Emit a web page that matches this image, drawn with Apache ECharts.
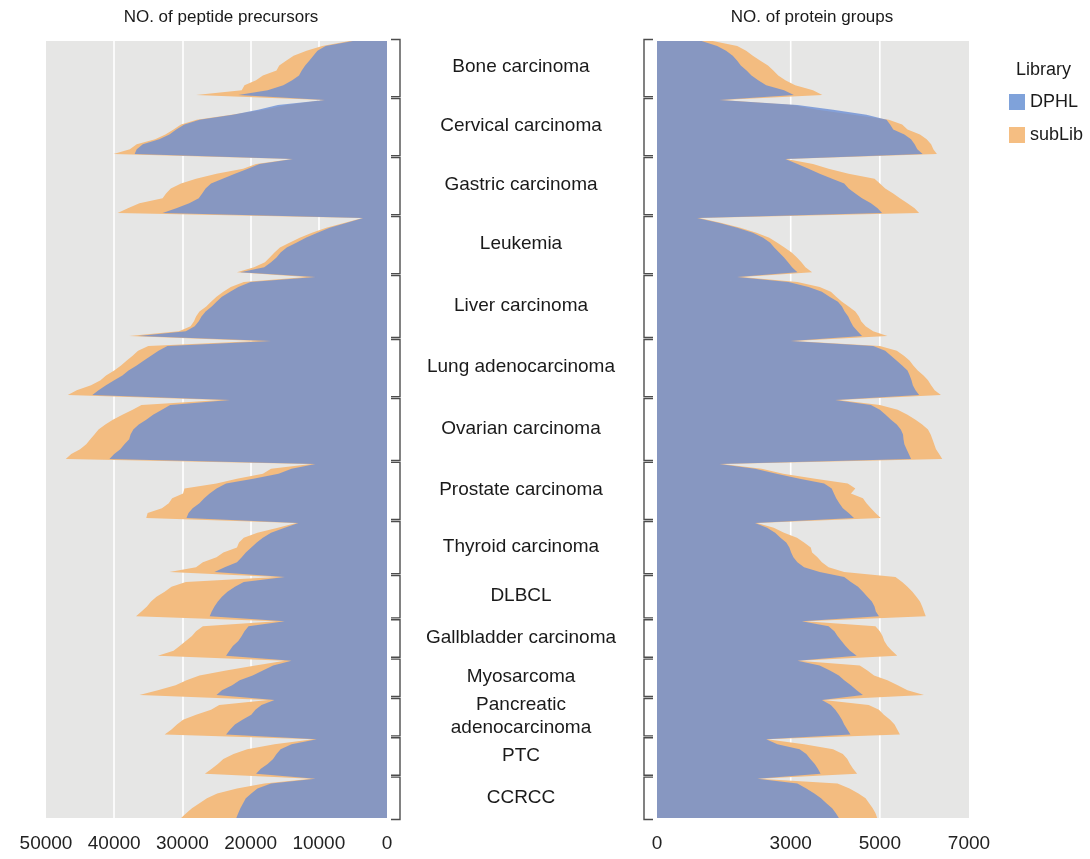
<!DOCTYPE html>
<html>
<head>
<meta charset="utf-8">
<title>DPHL vs subLib</title>
<script src="https://cdn.jsdelivr.net/npm/echarts@6/dist/echarts.min.js"></script>
<style>
    html, body { margin: 0; padding: 0; background: #fff; }
    #chart { width: 1090px; height: 859px; }
</style>
</head>
<body>
<div id="chart"></div>
<script>
// 分组(癌症类型)
var groupNames = ['Bone carcinoma', 'Cervical carcinoma', 'Gastric carcinoma', 'Leukemia', 'Liver carcinoma',
    'Lung adenocarcinoma', 'Ovarian carcinoma', 'Prostate carcinoma', 'Thyroid carcinoma', 'DLBCL',
    'Gallbladder carcinoma', 'Myosarcoma', 'Pancreatic\nadenocarcinoma', 'PTC', 'CCRCC'];

// 肽段前体数 - DPHL
var pepDPHL = [
    [5000, 9000, 10200, 10800, 11400, 12000, 12500, 12900, 13900, 15200, 17500, 21800],
    [9100, 16000, 18900, 22600, 27500, 29700, 30900, 31900, 33400, 35800, 36700, 37000],
    [13800, 18700, 20400, 22300, 24100, 25800, 26600, 27100, 27600, 29000, 30900, 32900],
    [3500, 6000, 8400, 10200, 11900, 13300, 14700, 15600, 16200, 17000, 18000, 21500],
    [10500, 20000, 21800, 23000, 24200, 25000, 25700, 26600, 27200, 27600, 28200, 29500, 36500],
    [17000, 32200, 33500, 34600, 35700, 36700, 37900, 38800, 40000, 41200, 42300, 43200],
    [23000, 31800, 33000, 34300, 35300, 36400, 37200, 37600, 37800, 38500, 39100, 40000, 40700],
    [10500, 14000, 15900, 19600, 23600, 25000, 26000, 26800, 27500, 28500, 29100, 29400],
    [13000, 15000, 17000, 18200, 19100, 19900, 20700, 21300, 22000, 23800, 25300],
    [15000, 21000, 22300, 23400, 24200, 24800, 25300, 25700, 26000],
    [15000, 20300, 20900, 21300, 21800, 22600, 23100, 23600],
    [14000, 16700, 18200, 19700, 21600, 22700, 24200, 25000],
    [16500, 18400, 19300, 19900, 21200, 22300, 23000, 23600],
    [10300, 14000, 15600, 16200, 16700, 17500, 18500, 19200],
    [10500, 17000, 19000, 19900, 20700, 21100, 21500, 21800, 22100]
];
// 肽段前体数 - subLib
var pepSub = [
    [5500, 9500, 11800, 13700, 14800, 15800, 16200, 18200, 19200, 20900, 21300, 28000],
    [9300, 14800, 18000, 22800, 27900, 30200, 31300, 32500, 34000, 36700, 37700, 40100],
    [13900, 19200, 21100, 25000, 28000, 30200, 31700, 32400, 32900, 36300, 38000, 39500],
    [3600, 6300, 8900, 11000, 12800, 14300, 15700, 16500, 17200, 17900, 19500, 22000],
    [11800, 21000, 22900, 24000, 25000, 25800, 26500, 27500, 28000, 28300, 28800, 30500, 37800],
    [18900, 35000, 36500, 37300, 38200, 39000, 40000, 41200, 42000, 43400, 45500, 46800],
    [24300, 36000, 37300, 38800, 40200, 41300, 42300, 42900, 43500, 44100, 45000, 46300, 47100],
    [11100, 17000, 18200, 22000, 25000, 29700, 29900, 31500, 32000, 33000, 35100, 35300],
    [13300, 16000, 19000, 21000, 21700, 22000, 24000, 25000, 27000, 28000, 31900],
    [16200, 29500, 31600, 32600, 33800, 34600, 35200, 36000, 36800],
    [16200, 27000, 28000, 28600, 29500, 30400, 31300, 33600],
    [15000, 19300, 23600, 27500, 29400, 31000, 33600, 36300],
    [17400, 24600, 25800, 28000, 29900, 30800, 31600, 32600],
    [10800, 16500, 20500, 22500, 24000, 24800, 25700, 26700],
    [11100, 18000, 22000, 24900, 26400, 27500, 28600, 29400, 30200]
];
// 蛋白组数 - DPHL
var protDPHL = [
    [1000, 1350, 1550, 1700, 1800, 1880, 2010, 2120, 2270, 2450, 2850, 3070],
    [1400, 3150, 3950, 4700, 5150, 5230, 5300, 5550, 5700, 5780, 5840, 5960],
    [2880, 3150, 3400, 3650, 3930, 4200, 4300, 4450, 4600, 4800, 4950, 5050],
    [900, 1400, 1800, 2150, 2380, 2540, 2630, 2740, 2850, 2940, 3030, 3150],
    [1800, 2950, 3400, 3700, 3870, 4060, 4150, 4210, 4290, 4340, 4400, 4500, 4600],
    [3000, 4850, 5120, 5250, 5380, 5500, 5620, 5670, 5710, 5740, 5800, 5880],
    [4000, 4800, 5000, 5130, 5250, 5380, 5470, 5520, 5530, 5550, 5600, 5650, 5700],
    [1400, 2200, 2680, 3200, 3750, 3920, 3970, 4020, 4090, 4170, 4300, 4420],
    [2200, 2470, 2650, 2770, 2900, 2970, 3010, 3060, 3150, 3300, 3650],
    [4200, 4350, 4510, 4620, 4720, 4820, 4880, 4910, 4980],
    [3250, 3850, 3980, 4050, 4140, 4230, 4330, 4480],
    [3150, 3650, 3880, 4080, 4200, 4350, 4480, 4620],
    [3700, 3900, 4000, 4080, 4150, 4200, 4270, 4340],
    [2450, 2700, 3200, 3350, 3440, 3540, 3610, 3670],
    [2250, 3150, 3350, 3530, 3680, 3800, 3930, 4010, 4080]
];
// 蛋白组数 - subLib
var protSub = [
    [1250, 1800, 2000, 2150, 2320, 2490, 2610, 2720, 2880, 3100, 3500, 3710],
    [1460, 3050, 3600, 4400, 5200, 5500, 5620, 5900, 6050, 6150, 6200, 6280],
    [2900, 3500, 3850, 4300, 4880, 5000, 5120, 5300, 5450, 5620, 5780, 5880],
    [950, 1450, 1870, 2230, 2520, 2700, 2860, 3020, 3140, 3240, 3330, 3480],
    [1900, 3150, 3650, 3900, 4020, 4150, 4300, 4450, 4530, 4580, 4680, 4850, 5170],
    [3070, 5000, 5380, 5540, 5670, 5750, 5850, 5980, 6080, 6150, 6230, 6370],
    [4080, 5000, 5400, 5620, 5800, 5950, 6080, 6140, 6180, 6220, 6260, 6330, 6400],
    [1460, 2350, 2830, 3550, 4280, 4450, 4350, 4620, 4700, 4800, 4900, 5020],
    [2240, 2620, 2850, 3140, 3300, 3450, 3480, 3600, 3700, 3850, 4200],
    [5350, 5500, 5620, 5730, 5820, 5900, 5950, 5990, 6030],
    [3330, 4900, 5000, 5060, 5100, 5170, 5270, 5390],
    [3180, 4550, 4720, 4870, 5170, 5400, 5620, 5990],
    [3740, 4750, 4980, 5090, 5230, 5330, 5390, 5450],
    [2470, 3300, 3950, 4170, 4270, 4330, 4400, 4490],
    [2280, 4050, 4320, 4520, 4680, 4760, 4840, 4900, 4940]
];

// 右侧坐标轴刻度和网格线
var protTickLabels = [0, 3000, 5000, 7000];
var protGridValues = [3000, 5000];

var FONT = '"Liberation Sans", Arial, Helvetica, sans-serif';
var TEXT_COLOR = '#1a1a1a';

function flatten(list) {
    var out = [];
    list.forEach(function (arr) { out = out.concat(arr); });
    return out;
}

// 每组样本的起止序号
var groupRanges = [];
var sampleIds = [];
var idx = 0;
groupNames.forEach(function (name, i) {
    var n = pepDPHL[i].length;
    groupRanges.push({ name: name, value: [0, idx, idx + n - 1] });
    idx += n;
});
for (var k = 0; k < idx; k++) {
    sampleIds.push(k);
}

/**
 * 画分组括号(左图在右边, 右图在左边), 左图同时画组名
 */
function bracketRender(side) {
    return function (params, api) {
        var top = api.coord([0, api.value(1)]);
        var bottom = api.coord([0, api.value(2)]);
        var x = top[0];
        var dir = side === 'left' ? 1 : -1;
        var xLine = x + dir * 13;
        var xTick = x + dir * 4;
        var y1 = top[1] - 1.5;
        var y2 = bottom[1] + 1.5;
        var children = [{
            type: 'polyline',
            shape: { points: [[xTick, y1], [xLine, y1], [xLine, y2], [xTick, y2]] },
            style: { stroke: '#4d4d4d', lineWidth: 1.4, fill: null }
        }];
        if (side === 'left') {
            children.push({
                type: 'text',
                style: {
                    text: groupNames[params.dataIndex],
                    x: x + 134,
                    y: (y1 + y2) / 2 - 1,
                    align: 'center',
                    verticalAlign: 'middle',
                    fontSize: 19,
                    lineHeight: 23,
                    fontFamily: FONT,
                    fill: TEXT_COLOR
                }
            });
        }
        return { type: 'group', children: children };
    };
}

/**
 * 右图的白色网格线(只在3000和5000)
 */
function gridLineRender(params, api) {
    var p = api.coord([api.value(0), 0]);
    var cs = params.coordSys;
    return {
        type: 'line',
        shape: { x1: p[0], y1: cs.y, x2: p[0], y2: cs.y + cs.height },
        style: { stroke: '#ffffff', lineWidth: 1.6 }
    };
}

function areaSeries(name, xi, data, fill, legendColor, z) {
    return {
        name: name,
        type: 'line',
        xAxisIndex: xi,
        yAxisIndex: xi,
        data: data,
        showSymbol: false,
        symbol: 'none',
        silent: true,
        z: z,
        lineStyle: { width: 0, opacity: 0 },
        itemStyle: { color: legendColor },
        areaStyle: { color: fill, opacity: 1 }
    };
}

var ORANGE = '#f3bc80';
var BLUE_FILL = 'rgba(103,139,212,0.77)';

var myChart = echarts.init(document.getElementById('chart'));
myChart.setOption({
    animation: false,
    backgroundColor: '#ffffff',
    title: [{
        text: 'Library',
        left: 1011,
        top: 56,
        textStyle: { fontSize: 18, fontWeight: 'normal', fontFamily: FONT, color: TEXT_COLOR }
    }],
    graphic: [
        { type: 'text', x: 221, y: 17, style: { text: 'NO. of peptide precursors', align: 'center', verticalAlign: 'middle', fontSize: 17, fontFamily: FONT, fill: TEXT_COLOR } },
        { type: 'text', x: 812, y: 17, style: { text: 'NO. of protein groups', align: 'center', verticalAlign: 'middle', fontSize: 17, fontFamily: FONT, fill: TEXT_COLOR } }
    ],
    legend: {
        data: ['DPHL', 'subLib'],
        orient: 'vertical',
        left: 1004,
        top: 88,
        icon: 'rect',
        itemWidth: 16,
        itemHeight: 16,
        itemGap: 15,
        selectedMode: false,
        textStyle: { fontSize: 18, fontFamily: FONT, color: TEXT_COLOR }
    },
    grid: [
        { left: 46, top: 41, width: 341, height: 777, show: true, backgroundColor: '#e6e6e5', borderWidth: 0 },
        { left: 657, top: 41, width: 312, height: 777, show: true, backgroundColor: '#e6e6e5', borderWidth: 0 }
    ],
    xAxis: [{
        type: 'value',
        gridIndex: 0,
        min: 0,
        max: 50000,
        interval: 10000,
        inverse: true,
        axisLine: { show: false },
        axisTick: { show: false },
        axisLabel: {
            fontSize: 19, fontFamily: FONT, color: '#222', margin: 16,
            formatter: function (v) { return String(v); }
        },
        splitLine: { show: true, showMinLine: false, showMaxLine: false, lineStyle: { color: '#ffffff', width: 1.6 } }
    }, {
        type: 'value',
        gridIndex: 1,
        min: 0,
        max: 7000,
        interval: 1000,
        axisLine: { show: false },
        axisTick: { show: false },
        axisLabel: {
            fontSize: 19, fontFamily: FONT, color: '#222', margin: 16,
            formatter: function (v) { return protTickLabels.indexOf(v) >= 0 ? String(v) : ''; }
        },
        splitLine: { show: false }
    }],
    yAxis: [
        { type: 'category', gridIndex: 0, data: sampleIds, inverse: true, boundaryGap: false, show: false },
        { type: 'category', gridIndex: 1, data: sampleIds, inverse: true, boundaryGap: false, show: false }
    ],
    series: [
        {
            type: 'custom',
            xAxisIndex: 1,
            yAxisIndex: 1,
            z: 1,
            silent: true,
            renderItem: gridLineRender,
            encode: { x: 0, y: 1 },
            data: protGridValues.map(function (v) { return [v, 0]; })
        },
        areaSeries('subLib', 0, flatten(pepSub), ORANGE, '#f5be82', 2),
        areaSeries('DPHL', 0, flatten(pepDPHL), BLUE_FILL, '#7fa2da', 3),
        areaSeries('subLib', 1, flatten(protSub), ORANGE, '#f5be82', 2),
        areaSeries('DPHL', 1, flatten(protDPHL), BLUE_FILL, '#7fa2da', 3),
        {
            type: 'custom',
            xAxisIndex: 0,
            yAxisIndex: 0,
            z: 4,
            silent: true,
            clip: false,
            renderItem: bracketRender('left'),
            encode: { x: 0, y: [1, 2] },
            data: groupRanges
        },
        {
            type: 'custom',
            xAxisIndex: 1,
            yAxisIndex: 1,
            z: 4,
            silent: true,
            clip: false,
            renderItem: bracketRender('right'),
            encode: { x: 0, y: [1, 2] },
            data: groupRanges
        }
    ]
});
</script>
</body>
</html>
